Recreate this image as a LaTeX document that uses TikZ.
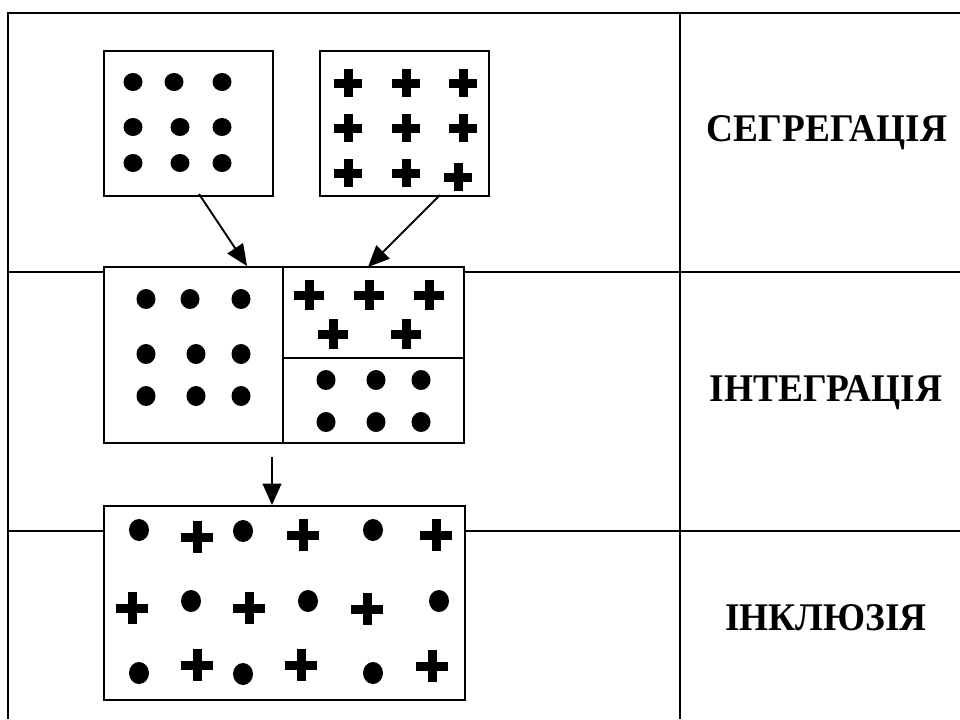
\documentclass[tikz,border=0pt]{standalone}
\usepackage{fontspec}
\setmainfont{Liberation Serif}
\usetikzlibrary{arrows.meta}
\newcommand\plusat[3]{\fill ({#1-#3},{#2-4.5}) rectangle ({#1+#3},{#2+4.5}); \fill ({#1-4.5},{#2-#3}) rectangle ({#1+4.5},{#2+#3});}
\newcommand\dotat[4]{\fill (#1,#2) ellipse ({#3} and {#4});}
\begin{document}
\begin{tikzpicture}[x=0.75pt,y=-0.75pt,
  tabline/.style={line width=1.5pt},
  box/.style={draw, line width=1.3pt, fill=white, inner sep=0pt, anchor=north west},
  arr/.style={line width=1.4pt, -{Triangle[length=16pt,width=14pt]}},
  lab/.style={font=\bfseries\fontsize{28}{30}\selectfont, inner sep=0pt, yscale=1.05}]
\useasboundingbox (0,0) rectangle (960,719);
% table
\draw[tabline] (960,13) -- (8,13) -- (8,719);
\draw[tabline] (680,13) -- (680,719);
\draw[tabline] (8,272) -- (960,272);
\draw[tabline] (8,531) -- (960,531);
% labels
\node[lab] (l1) at (827,133) {СЕГРЕГАЦІЯ};
\node[lab] (l2) at (826,393) {ІНТЕГРАЦІЯ};
\node[lab] (l3) at (826,618) {ІНКЛЮЗІЯ};
% segregation boxes
\node[box, minimum width=126.75pt, minimum height=108.75pt] (segd) at (103,50) {};
\node[box, minimum width=126.75pt, minimum height=108.75pt] (segp) at (319,50) {};
\foreach \x/\y in {133/82,174/82,222/82,133/127,180/127,222/127,133/163,180/163,222/163}
  {\dotat{\x}{\y}{9.5}{9}}
\foreach \x/\y in {348/83,406/83,463/83,348/128,406/128,463/128,348/173,406/173,458/177}
  {\plusat{\x}{\y}{14}}
% integration box
\node[box, minimum width=270pt, minimum height=132pt] (integ) at (103,266) {};
\draw[line width=1.3pt] (283,266) -- (283,442);
\draw[line width=1.3pt] (283,358) -- (463,358);
\foreach \x/\y in {146/299,190/299,241/299,146/354,196/354,241/354,146/396,196/396,241/396}
  {\dotat{\x}{\y}{9.5}{10}}
\foreach \x/\y in {309/295,369/295,429/295,333/334,406/334}
  {\plusat{\x}{\y}{15}}
\foreach \x/\y in {326/380,376/380,421/380,326/422,376/422,421/422}
  {\dotat{\x}{\y}{9.5}{10}}
% inclusion box
\node[box, minimum width=270.75pt, minimum height=145.5pt] (incl) at (103,505) {};
\foreach \x/\y in {139/530,243/531,373/530,191/601,308/601,439/601,139/673,243/674,373/673}
  {\dotat{\x}{\y}{10}{11}}
\foreach \x/\y in {197/537,303/535,436/535,132/608,249/608,367/609,197/665,301/665,432/666}
  {\plusat{\x}{\y}{16}}
% arrows
\coordinate (a1s) at (199,194);
\coordinate (a1e) at (247,266);
\coordinate (a2s) at (440,195);
\coordinate (a2e) at (368,267);
\coordinate (a3s) at (272,457);
\coordinate (a3e) at (272,505);
\draw[arr] (a1s) -- (a1e);
\draw[arr] (a2s) -- (a2e);
\draw[arr] (a3s) -- (a3e);
\end{tikzpicture}
\end{document}
